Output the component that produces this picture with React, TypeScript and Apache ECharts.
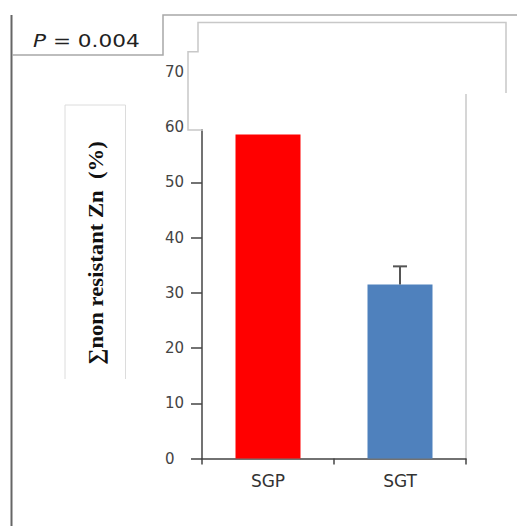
import React, { useEffect, useRef } from "react";
import * as echarts from "echarts";

const categories = ["SGP", "SGT"];
const values = [58.7, 31.5];
const errors = [0, 3.3];
const barColors = ["#ff0000", "#4f81bd"];
const yTicks = { min: 0, max: 70, interval: 10 };
const pText = "P = 0.004";
const yName = "\u2211non resistant Zn  (%)";

export default function App() {
  const ref = useRef<HTMLDivElement>(null);
  useEffect(() => {
    document.body.style.margin = "0";
    const chart = echarts.init(ref.current!, null, { renderer: "svg" });
    const gray = "#c8c8c8";
    chart.setOption({
      animation: false,
      backgroundColor: "#ffffff",
      grid: { left: 202, top: 72, width: 264, height: 386.5 },
      xAxis: {
        type: "category",
        data: categories,
        boundaryGap: true,
        axisLine: { show: true, lineStyle: { color: "#444", width: 1.5 } },
        axisTick: { show: true, length: 6, lineStyle: { color: "#444", width: 1.5 } },
        axisLabel: { margin: 14, fontSize: 17, color: "#333", fontFamily: "DejaVu Sans" },
        splitLine: { show: false },
      },
      yAxis: {
        type: "value",
        min: yTicks.min,
        max: yTicks.max,
        interval: yTicks.interval,
        axisLine: { show: true, lineStyle: { color: "#444", width: 1.5 } },
        axisTick: { show: true, length: 11, lineStyle: { color: "#444", width: 1.5 } },
        axisLabel: { align: "left", margin: 37, fontSize: 15, color: "#444", fontFamily: "DejaVu Sans" },
        splitLine: { show: false },
      },
      series: [
        {
          type: "bar",
          barWidth: 65,
          data: values.map((v, i) => ({ value: v, itemStyle: { color: barColors[i] } })),
          z: 2,
        },
        {
          type: "custom",
          z: 3,
          data: categories.map((c, i) => [i, values[i], errors[i]]),
          renderItem: (params: any, api: any) => {
            const x = api.value(0);
            const v = api.value(1);
            const e = api.value(2);
            if (!e) return null;
            const base = api.coord([x, v]);
            const top = api.coord([x, v + e]);
            const hw = 7;
            return {
              type: "group",
              children: [
                { type: "line", shape: { x1: base[0], y1: base[1], x2: top[0], y2: top[1] }, style: { stroke: "#555", lineWidth: 2 } },
                { type: "line", shape: { x1: top[0] - hw, y1: top[1], x2: top[0] + hw, y2: top[1] }, style: { stroke: "#555", lineWidth: 2 } },
              ],
            };
          },
        },
      ],
      graphic: [
        { type: "rect", z: 100, shape: { x: 189, y: 52, width: 276, height: 77 }, style: { fill: "#fff" } },
        { type: "rect", z: 100, shape: { x: 199, y: 23, width: 306, height: 70 }, style: { fill: "#fff" } },
        { type: "line", z: 101, shape: { x1: 11.5, y1: 15, x2: 11.5, y2: 526 }, style: { stroke: "#666", lineWidth: 2 } },
        { type: "polyline", z: 101, shape: { points: [[12, 55], [163, 55], [163, 15], [517, 15]] }, style: { stroke: "#a8a8a8", lineWidth: 1.5, fill: null } },
        { type: "polyline", z: 101, shape: { points: [[203, 130], [188, 130], [188, 51.7], [198, 51.7], [198, 22.5], [506, 22.5], [506, 93]] }, style: { stroke: gray, lineWidth: 1.5, fill: null } },
        { type: "line", z: 101, shape: { x1: 466, y1: 94, x2: 466, y2: 458 }, style: { stroke: gray, lineWidth: 1.5 } },
        { type: "polyline", z: 101, shape: { points: [[65, 379], [65, 105], [125.5, 105], [125.5, 379]] }, style: { stroke: "#dcdcdc", lineWidth: 1, fill: null } },
        {
          type: "text",
          z: 102,
          x: 33,
          y: 41,
          scaleX: 1.2,
          style: {
            text: "{i|P}{n| = 0.004}",
            rich: {
              i: { fontStyle: "italic", fontSize: 18, fontFamily: "DejaVu Sans", fill: "#222" },
              n: { fontSize: 18, fontFamily: "DejaVu Sans", fill: "#222" },
            },
            verticalAlign: "middle",
            align: "left",
          },
        },
        {
          type: "text",
          z: 102,
          x: 96,
          y: 253,
          rotation: Math.PI / 2,
          scaleX: 1.08,
          style: {
            text: yName,
            fontSize: 21,
            fontWeight: "bold",
            fontFamily: "Liberation Serif",
            fill: "#111",
            align: "center",
            verticalAlign: "middle",
          },
        },
      ],
    });
    return () => chart.dispose();
  }, []);
  return <div ref={ref} style={{ width: 517, height: 526 }} />;
}
